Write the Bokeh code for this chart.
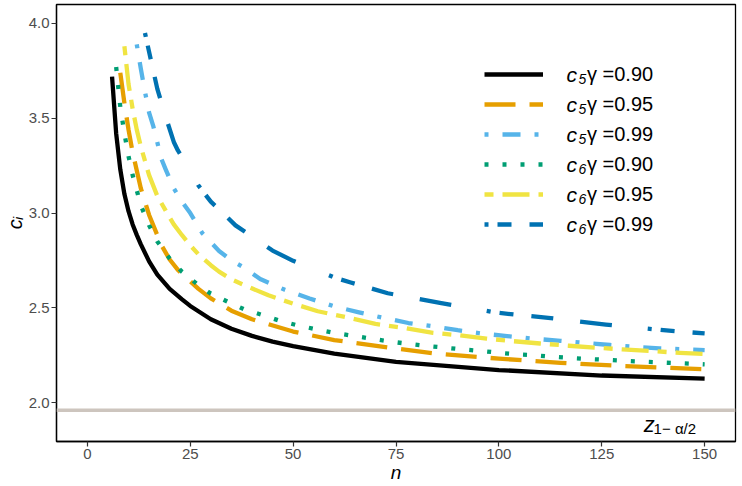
from bokeh.plotting import figure
from bokeh.models import Range1d, FixedTicker, Span, Label, Legend, LegendItem
from bokeh.embed import file_html
from bokeh.resources import INLINE

# ---- data ----
n_c5_90 = [6, 7, 8, 9, 10, 11, 12, 13, 15, 17, 20, 23, 25, 30, 35, 40, 45, 50, 60, 75, 100, 125, 150]
c5_90 = [3.72, 3.42, 3.23, 3.10, 3.01, 2.94, 2.885, 2.835, 2.745, 2.675, 2.60, 2.545, 2.51, 2.44,
         2.39, 2.352, 2.322, 2.298, 2.258, 2.215, 2.172, 2.143, 2.127]

n_c5_95 = [8, 9, 10, 11, 13, 15, 18, 20, 22, 25, 27, 30, 35, 40, 50, 60, 65, 75, 85, 100, 115, 130, 150]
c5_95 = [3.74, 3.58, 3.44, 3.32, 3.13, 2.99, 2.83, 2.755, 2.70, 2.64, 2.60, 2.55, 2.485, 2.44,
         2.375, 2.33, 2.315, 2.285, 2.258, 2.232, 2.21, 2.193, 2.176]

n_c5_99 = [12, 13, 14, 15, 16, 18, 19, 21, 23, 25, 28, 32, 35, 38, 42, 48, 54, 60, 66, 72, 78, 84,
           90, 96, 102, 108, 115, 127, 139, 150]
c5_99 = [3.89, 3.76, 3.64, 3.53, 3.46, 3.285, 3.232, 3.13, 3.06, 3.0, 2.892, 2.80, 2.75, 2.713,
         2.652, 2.595, 2.549, 2.508, 2.476, 2.447, 2.42, 2.403, 2.382, 2.364, 2.351, 2.338, 2.326,
         2.304, 2.286, 2.277]

n_c6_90 = [7, 8, 9, 10, 11, 12, 13, 15, 17, 20, 23, 27, 30, 34, 38, 43, 47, 51, 56, 60, 65, 69, 74,
           78, 82, 87, 91, 96, 100, 105, 109, 113, 118, 122, 127, 131, 136, 140, 145, 150]
c6_90 = [3.77, 3.56, 3.42, 3.30, 3.20, 3.12, 3.04, 2.935, 2.85, 2.76, 2.69, 2.62, 2.575, 2.533,
         2.493, 2.459, 2.43, 2.408, 2.385, 2.368, 2.351, 2.337, 2.321, 2.31, 2.30, 2.29, 2.281,
         2.272, 2.263, 2.254, 2.249, 2.242, 2.235, 2.23, 2.225, 2.22, 2.215, 2.211, 2.207, 2.202]

n_c6_95 = [9, 10, 11, 12, 13, 15, 17, 19, 21, 23, 25, 27, 30, 32, 35, 38, 44, 50, 56, 63, 70, 77, 84,
           90, 97, 103, 110, 117, 124, 130, 137, 144, 150]
c6_95 = [3.88, 3.68, 3.55, 3.44, 3.35, 3.20, 3.09, 3.014, 2.94, 2.883, 2.83, 2.782, 2.725, 2.691,
         2.65, 2.621, 2.566, 2.522, 2.482, 2.45, 2.415, 2.394, 2.368, 2.356, 2.338, 2.325, 2.312,
         2.30, 2.289, 2.281, 2.272, 2.263, 2.257]

n_c6_99 = [14, 15, 17, 19, 21, 22, 25, 27, 30, 33, 36, 40, 45, 50, 55, 60, 64, 73, 86, 99, 104, 112,
           126, 140, 150]
c6_99 = [3.95, 3.85, 3.655, 3.51, 3.375, 3.33, 3.226, 3.145, 3.06, 2.999, 2.935, 2.876, 2.802,
         2.748, 2.705, 2.66, 2.634, 2.577, 2.525, 2.476, 2.464, 2.447, 2.412, 2.382, 2.365]

coef_names = ["5", "5", "5", "6", "6", "6"]
gamma_labels = ["γ =0.90", "γ =0.95", "γ =0.99", "γ =0.90", "γ =0.95", "γ =0.99"]
x_ticks = [0, 25, 50, 75, 100, 125, 150]
y_ticks = [2.0, 2.5, 3.0, 3.5, 4.0]
y_tick_labels = ["2.0", "2.5", "3.0", "3.5", "4.0"]
z_crit = 1.96

# ---- styling ----
colors = ["#000000", "#E69F00", "#56B4E9", "#009E73", "#F0E442", "#0072B2"]
dashes = ["solid", "31 14", "4 14 18 14", "4 14", "9 9 27 9", "4 9 14 18 22 27 32 36"]
FONT = "Liberation Sans"
FW, FH = 679, 437

p = figure(frame_width=FW, frame_height=FH,
           x_range=Range1d(-7.5, 157.5), y_range=Range1d(1.795, 4.10),
           output_backend="svg", toolbar_location=None,
           min_border_left=0, min_border_right=4, min_border_top=4, min_border_bottom=0,
           background_fill_color="white", border_fill_color="white")
p.grid.visible = False
p.outline_line_color = "black"
p.outline_line_width = 1.3

for ax in (p.xaxis, p.yaxis):
    ax.axis_line_color = "black"
    ax.axis_line_width = 1.3
    ax.major_tick_line_color = "#333333"
    ax.major_tick_line_width = 1.2
    ax.major_tick_out = 5
    ax.major_tick_in = 0
    ax.minor_tick_line_color = None
    ax.major_label_text_font = FONT
    ax.major_label_text_font_size = "15px"
    ax.major_label_text_color = "#4d4d4d"
    ax.axis_label_text_font = FONT
    ax.axis_label_text_font_style = "italic"
    ax.axis_label_text_color = "black"

p.xaxis.ticker = FixedTicker(ticks=x_ticks)
p.yaxis.ticker = FixedTicker(ticks=y_ticks)
p.yaxis.major_label_overrides = {t: l for t, l in zip(y_ticks, y_tick_labels)}
p.xaxis.axis_label = "n"
p.xaxis.axis_label_text_font_size = "19px"
p.xaxis.axis_label_standoff = 0
p.xaxis.major_label_standoff = 2
p.yaxis.axis_label = "cᵢ"
p.yaxis.axis_label_text_font_size = "20px"
p.yaxis.axis_label_standoff = 0
p.yaxis.major_label_standoff = 2

# critical value line
p.add_layout(Span(location=z_crit, dimension="width", line_color="#cdc5be", line_width=3.5))

ns = [n_c5_90, n_c5_95, n_c5_99, n_c6_90, n_c6_95, n_c6_99]
cs = [c5_90, c5_95, c5_99, c6_90, c6_95, c6_99]
items = []
for n, c, col, d, lab in zip(ns, cs, colors, dashes, gamma_labels):
    r = p.line(n, c, line_color=col, line_width=4.3, line_dash=d,
               line_cap="butt", line_join="round")
    items.append(LegendItem(label=lab, renderers=[r]))

ROW0, PITCH = 70, 30
legend = Legend(items=items, location=(428, FH - (ROW0 - 12) - 174), glyph_width=59, glyph_height=24,
                label_height=24, label_width=20, spacing=6, label_standoff=44, padding=0, margin=0,
                border_line_color=None, background_fill_alpha=0,
                label_text_font=FONT, label_text_font_size="20px", label_text_color="black")
p.add_layout(legend)

for i, sub in enumerate(coef_names):
    row_y = FH - (ROW0 + PITCH * i)
    p.add_layout(Label(x=510, y=row_y, x_units="screen", y_units="screen", text="c",
                       text_font=FONT, text_font_style="italic", text_font_size="21px",
                       text_baseline="middle", text_color="black"))
    p.add_layout(Label(x=522, y=row_y - 4, x_units="screen", y_units="screen", text=sub,
                       text_font=FONT, text_font_style="italic", text_font_size="14px",
                       text_baseline="middle", text_color="black"))

# z_{1-alpha/2} annotation
p.add_layout(Label(x=135.2, y=1.885, text="z", text_font=FONT, text_font_style="italic",
                   text_font_size="22px", text_baseline="alphabetic", text_color="black"))
p.add_layout(Label(x=137.6, y=1.866, text="1− α/2", text_font=FONT,
                   text_font_size="15px", text_baseline="alphabetic", text_color="black"))

open("out.html", "w").write(file_html(p, INLINE))
